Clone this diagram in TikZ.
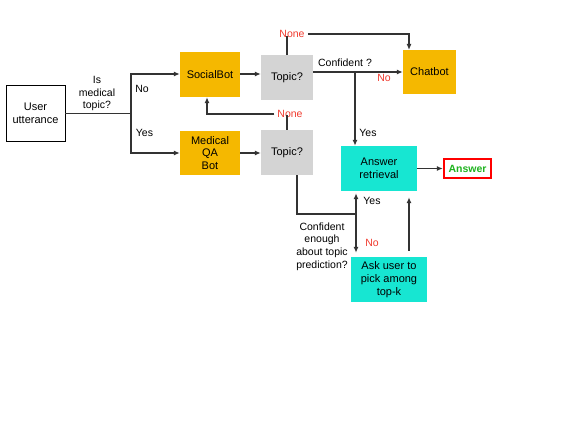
\documentclass[tikz,border=0pt]{standalone}
\usepackage{fontspec}
\setmainfont{Liberation Sans}
\definecolor{botorange}{HTML}{F5B800}
\definecolor{topicgray}{HTML}{D4D4D4}
\definecolor{retrcyan}{HTML}{17E6D2}
\definecolor{nonered}{HTML}{F03A2E}
\definecolor{answergreen}{HTML}{1FB31F}
\definecolor{linegray}{HTML}{333333}
\tikzset{
  box/.style={inner sep=0pt, align=center, font=\fontsize{11}{12.8}\selectfont},
  botbox/.style={box, fill=botorange},
  topicbox/.style={box, fill=topicgray},
  retrbox/.style={box, fill=retrcyan},
  lbl/.style={align=center, inner sep=0pt, font=\fontsize{10.5}{12.8}\selectfont},
  redlbl/.style={lbl, text=nonered},
  conn/.style={draw=linegray, line width=1.3pt},
  arr/.style={conn, -{Latex[length=6pt,width=5pt]}},
}
\usetikzlibrary{arrows.meta}
\begin{document}
\begin{tikzpicture}[x=1pt,y=-1pt]
    \useasboundingbox (0,0) rectangle (569,427);
    % Boxes
    \node[box, draw, line width=0.8pt, minimum width=59pt, minimum height=56pt] (user) at (35.5,113.5) {User\\utterance};
    \node[botbox, minimum width=60pt, minimum height=45pt] (social) at (210,74.5) {SocialBot};
    \node[botbox, minimum width=60pt, minimum height=44pt] (medqa) at (210,153) {Medical\\QA\\Bot};
    \node[topicbox, minimum width=52pt, minimum height=45pt] (topicA) at (287,77.5) {Topic?};
    \node[topicbox, minimum width=52pt, minimum height=45pt] (topicB) at (287,152.5) {Topic?};
    \node[botbox, minimum width=53pt, minimum height=44pt] (chatbot) at (429.5,72) {Chatbot};
    \node[retrbox, minimum width=76pt, minimum height=45pt] (retr) at (379,168.5) {Answer\\retrieval};
    \node[retrbox, minimum width=76pt, minimum height=45pt] (askuser) at (389,279.5) {Ask user to\\pick among\\top-k};
    \node[box, draw=red, line width=2.2pt, fill=white, minimum width=47pt, minimum height=19pt,
          text=answergreen, font=\fontsize{10.5}{12}\selectfont\bfseries] (answer) at (467.5,168.5) {Answer};
    % Labels
    \node[redlbl] (noneA) at (292,34) {None};
    \node[redlbl] (noneB) at (290,114) {None};
    \node[lbl] (ismed) at (97,93.5) {Is\\medical\\topic?};
    \node[lbl] at (142,89) {No};
    \node[lbl] at (144.5,133) {Yes};
    \node[lbl] at (345,63) {Confident ?};
    \node[redlbl] at (384,78) {No};
    \node[lbl] at (368,133) {Yes};
    \node[lbl] at (372,201) {Yes};
    \node[redlbl] at (372,243) {No};
    \node[lbl] (confenough) at (322,246.5) {Confident\\enough\\about topic\\prediction?};
    % Coordinates
    \coordinate (split) at (131,113.5);
    \coordinate (conf) at (355,72);
    \coordinate (fork) at (356,214);
    % Connectors
    \draw[conn] (user.east) -- (split);
    \draw[arr] (split) |- (social.west |- 0,74);
    \draw[arr] (split) |- (medqa.west);
    \draw[arr] (social.east |- 0,74) -- (topicA.west |- 0,74);
    \draw[arr] (medqa.east) -- (topicB.west |- medqa.east);
    \draw[conn] (topicA.north) -- ([yshift=2pt]topicA.north |- noneA.south);
    \draw[arr] ([xshift=3pt]noneA.east) -| (409,50);
    \draw[conn] (topicA.east |- conf) -- (conf);
    \draw[arr] (conf) -- (chatbot.west);
    \draw[arr] (conf) -- (conf |- retr.north);
    \draw[conn] (topicB.north) -- ([yshift=3pt]topicB.north |- noneB.south);
    \draw[arr] ([xshift=-3pt]noneB.west) -| ([xshift=-3pt]social.south);
    \draw[conn] ([xshift=10pt]topicB.south) |- (fork);
    \draw[arr, shorten >=2pt] (fork) -- (fork |- retr.south);
    \draw[arr, shorten >=4pt] (fork) -- (fork |- askuser.north);
    \draw[arr, shorten <=6pt, shorten >=6pt] (askuser.north -| 409,0) -- (retr.south -| 409,0);
    \draw[arr] (retr.east) -- (answer.west);
\end{tikzpicture}
\end{document}
